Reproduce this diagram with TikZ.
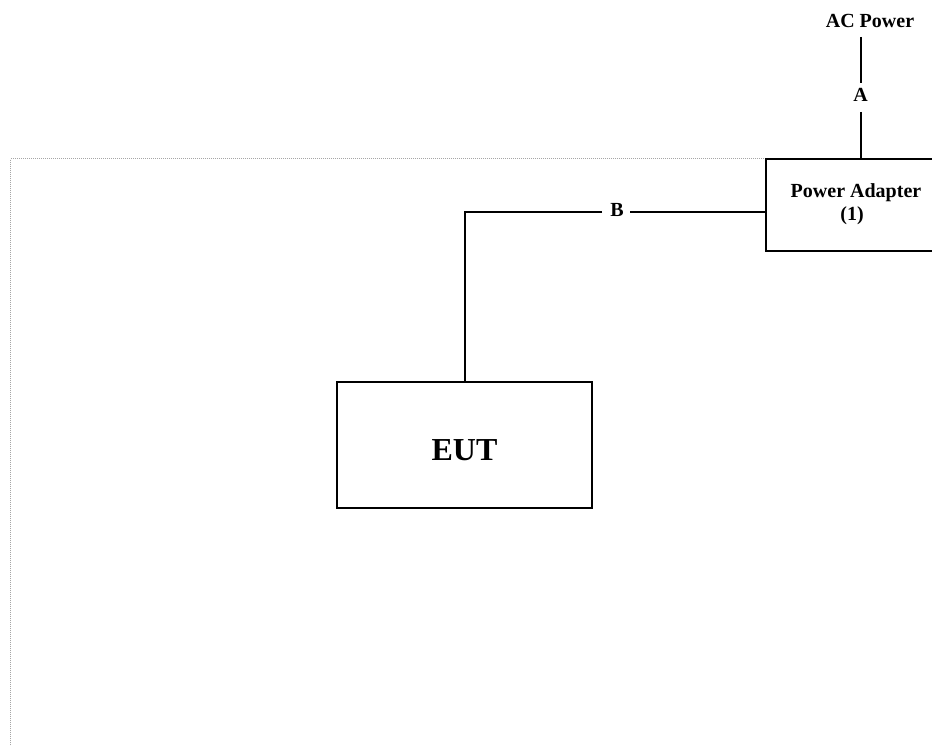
\documentclass[tikz,border=0pt]{standalone}
\usepackage{fontspec}
\setmainfont{Liberation Serif}
\begin{document}
\begin{tikzpicture}[x=1pt,y=-1pt,
  box/.style={draw,line width=2pt,inner sep=0pt},
  wire/.style={line width=2pt},
  lbl/.style={font=\fontsize{20}{23}\selectfont\bfseries,inner sep=0pt,anchor=base},
  frame/.style={draw=gray!70,line width=1pt,densely dotted}]
\useasboundingbox (0,0) rectangle (932,746);
\clip (0,0) rectangle (932,746);
% dotted frame
\draw[frame] (766,159) -- (10.5,159) -- (10.5,750);
% power adapter box (extends beyond the right edge)
\draw[box] (945,159) -- (766,159) -- (766,251) -- (945,251);
\node[lbl] (pa1) at (856,198) {Power Adapter};
\node[lbl] (pa2) at (852,221) {(1)};
\coordinate (paleft) at (766,212.5);
\coordinate (patop) at (860.5,159);
% EUT box
\node[box,minimum width=255pt,minimum height=126pt] (eut) at (464.5,444.5) {};
\node[lbl,font=\fontsize{32}{36}\selectfont\bfseries] (euttext) at (464.5,460) {EUT};
% AC power
\node[lbl] (ac) at (870,28) {AC Power};
\node[lbl] (a) at (860.5,102) {A};
\coordinate (acend) at (860.5,37);
\coordinate (atop) at (860.5,83);
\coordinate (abot) at (860.5,112);
\draw[wire] (acend) -- (atop);
\draw[wire] (abot) -- (patop);
% B cable
\node[lbl] (b) at (617,217) {B};
\coordinate (bright) at (630,212.5);
\coordinate (bleft) at (602,212.5);
\draw[wire] (paleft) -- (bright);
\draw[wire] (bleft) -- (eut.north |- bleft) -- (eut.north);
\end{tikzpicture}
\end{document}
